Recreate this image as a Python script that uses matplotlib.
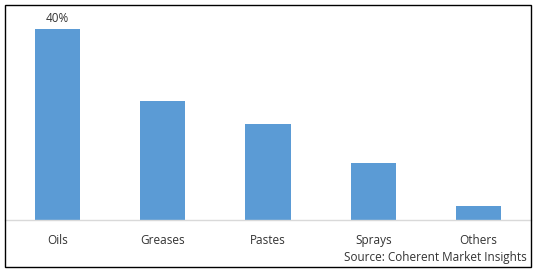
import matplotlib
matplotlib.use('Agg')
import matplotlib.pyplot as plt
from matplotlib.patches import Rectangle

# -- data -- #
categories = ["Oils", "Greases", "Pastes", "Sprays", "Others"]
shares = [40, 24.9, 20.1, 11.9, 2.9]
label_text = "40%"
source = "Source: Coherent Market Insights"

W, H = 538, 272
plt.rcParams['font.family'] = ['Open Sans', 'DejaVu Sans']
txt_color = '#333333'

fig = plt.figure(figsize=(W / 100, H / 100), dpi=100)
ax = fig.add_axes([5 / W, (H - 220) / H, 526 / W, 215 / H])

x = range(len(categories))
bars = ax.bar(x, shares, width=0.43, color='#5B9BD5')
ax.set_xlim(-0.5, len(categories) - 0.5)
ax.set_ylim(0, 45)

# only the first bar is labelled
ax.text(0, shares[0] + 0.8, label_text, ha='center', va='bottom', fontsize=8.5, color=txt_color)

ax.set_xticks(list(x))
ax.set_xticklabels(categories, fontsize=8.5, color=txt_color)
ax.tick_params(axis='x', length=0, pad=10)
ax.set_yticks([])
for s in ['top', 'right', 'left']:
    ax.spines[s].set_visible(False)
ax.spines['bottom'].set_color('#D9D9D9')
ax.spines['bottom'].set_linewidth(1)

fig.text(527 / W, 1 - 258 / H, source, ha='right', va='center', fontsize=8.5, color=txt_color)

# chart border
fig.patches.append(Rectangle((5 / W, 5 / H), 526 / W, 262 / H, transform=fig.transFigure,
                             fill=False, edgecolor='black', linewidth=1.0))

fig.savefig('out.png', dpi=100)
